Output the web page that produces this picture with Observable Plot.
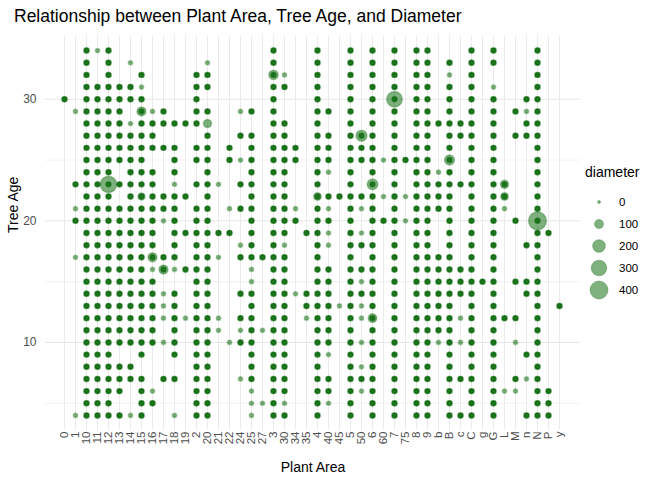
<!DOCTYPE html>
<html>
<head>
<meta charset="utf-8">
<script src="https://cdn.jsdelivr.net/npm/d3@7"></script>
<script src="https://cdn.jsdelivr.net/npm/@observablehq/plot@0.6"></script>
<style>
  body { margin: 0; font-family: "Liberation Sans", Arial, sans-serif; background: #fff; }
  #title { position: absolute; left: 14px; top: 6px; font-size: 17.5px; color: #000; }
  #chart { position: absolute; left: 0; top: 28px; }
  #legend { position: absolute; left: 585px; top: 165px; }
</style>
</head>
<body>
<div id="title">Relationship between Plant Area, Tree Age, and Diameter</div>
<div id="chart"></div>
<div id="legend"></div>
<script>
// plant areas, in axis order
const areas = ["0","1","10","11","12","13","14","15","16","17","18","19","2","20","21","22","24","25","27","3","30","34","35","4","40","45","5","50","6","60","7","75","8","9","b","B","c","C","g","G","L","M","n","N","P","y"]

// tree ages seen per area ("a-b" = every age in range, "l" = faint single point)
const ages = {
  "0": "30",
  "1": "29l 23 21l 20 17l 4l",
  "10": "4-34",
  "11": "34l 4-31",
  "12": "4-34",
  "13": "25-31 23 21 10-20 8 7 6 4",
  "14": "33l 30 31 28l 27 26 25 24 23 22 21 20 19 18 17 16 15 14 13 12 11 10 8 7 4l",
  "15": "32 31l 30 29 28 27 26 25 24 23 22 21 20 19 18 17 16 15 14 13 12 11 10 9 7 6 5 4",
  "16": "29l 28 27 26 24 23 22 21 20 19 18 17 16l 15 14 13 12 11 10 6l 5",
  "17": "29 28 26 22 21 20l 17 16 14l 13l 12l 10l 7",
  "18": "28 26 25 24 23l 22 21 20 19 18 17 16l 14 13 12 11 10 9 7 4l",
  "19": "28 22 19 16 12l",
  "2": "32 31 30 29 28 26 25 23 21 20 19 18 17 16 15 14 13 12 11 10 9 8 7 6 5 4",
  "20": "33l 32 31 29 28l 27 26 25 24 23 22 21 20 19 18 17 16 15 14 13 12 11 10 9 8 7 6 5 4",
  "21": "23l 19 17l 12l 11l",
  "22": "26 25 21l 19 10l",
  "24": "29l 27 25l 23 21 18l 17 14 12 11l 10 7l",
  "25": "29 27 26 25 24 23 22 21 20 19 18 17 16l 15l 14 13 12 11 10 9 8 7 6l 5l 4l",
  "27": "17 11l 5l",
  "3": "4-34",
  "30": "32l 31 28 27 26 25 24 23 22 21 20 19 18l 17 16 15 14 13 12 11 10 9 8 7 6 5l 4",
  "34": "26 25 21l 20 14l",
  "35": "19 14 13 12l",
  "4": "4-34",
  "40": "29 27 26 25 24l 22 21l 20 19l 18l 16 15 14 13 12 11 10 9l 7 6 5l",
  "45": "22 13l",
  "5": "4-34",
  "50": "27 26 25 22 21l 19l 18 16 15l 14 13l 12l 10l 8l 7 6l",
  "6": "4-34",
  "60": "25l 22l 20",
  "7": "4-34",
  "75": "25 22l 20l",
  "8": "4-34",
  "9": "4-34",
  "b": "28 24l 23 22 21 17 16 15 14 13 12 11 10l",
  "B": "33 32l 31 30 29 28 27 26 25 24 23 22 21 20 19 18 17 16 15 14 13 12 11 10 9 8 7 6 5 4",
  "c": "28 27 23 16 15 14 12l 10l 7 4",
  "C": "4-34",
  "g": "15",
  "G": "34 33 31l 30 29 28 27 26 25 24 23 22 21 20 19 18 17 16 15 14 13 12 11 10 9 8 7 6 5 4",
  "L": "23 22 21l 12 6l",
  "M": "29 27 20 15 12 10l 7 6l",
  "n": "30 29l 28 27 18 15 14 9 7l 4",
  "N": "4-34",
  "P": "19 6 5 4",
  "y": "13"
}

// the few trees with a large diameter: area, age, diameter
const bigArea = ["N","12","7","50","6","B","3","15","16","17","6","20","L","L","4","15"]
const bigAge  = [20, 23, 30, 27, 23, 25, 32, 29, 17, 16, 12, 28, 23, 22, 22, 22]
const bigDiam = [400, 330, 300, 150, 140, 120, 110, 100, 100, 100, 90, 80, 80, 70, 70, 60]

const usualDiam = 30, faintDiam = 22
const sizeTicks = [0, 100, 200, 300, 400]

const rows = []
for (const a of areas) {
  for (const tok of ages[a].split(" ")) {
    const faint = tok.endsWith("l")
    const t = faint ? tok.slice(0, -1) : tok
    let list
    if (t.includes("-")) { const [lo, hi] = t.split("-").map(Number); list = d3.range(lo, hi + 1) }
    else list = [+t]
    for (const age of list) {
      const bi = bigArea.findIndex((b, i) => b === a && bigAge[i] === age)
      const diam = bi >= 0 ? bigDiam[bi] : (faint ? faintDiam : usualDiam)
      // overlapping trees on one spot read darker: stack them
      const n = faint ? 1 : 3
      for (let k = 0; k < n; k++) rows.push({area: a, age, diameter: bi >= 0 && k > 0 ? usualDiam : diam})
    }
  }
}

const rScale = {type: "sqrt", domain: [0, 400], range: [0, 9]}

const chart = Plot.plot({
  width: 585,
  height: 452,
  marginLeft: 45,
  marginRight: 5,
  marginTop: 16,
  marginBottom: 59,
  style: {fontFamily: "Liberation Sans, Arial, sans-serif", fontSize: "11px"},
  x: {type: "point", domain: areas, range: [52, 571], label: null},
  y: {domain: [3.5, 34.5], label: null},
  r: rScale,
  marks: [
    Plot.ruleY([5, 15, 25], {stroke: "#f2f2f2"}),
    Plot.ruleY([10, 20, 30], {stroke: "#e6e6e6"}),
    Plot.ruleX(areas, {x: d => d, y1: 2.8, y2: 35.2, stroke: "#ebebeb"}),
    Plot.dot(rows, {x: "area", y: "age", r: "diameter", fill: "#006400", fillOpacity: 0.5, stroke: "#006400", strokeOpacity: 0.3}),
    Plot.axisY({ticks: [10, 20, 30], tickSize: 0, fill: "#4d4d4d", fontSize: 12, label: null}),
    Plot.axisX({tickSize: 0, tickRotate: -90, fill: "#4d4d4d", fontSize: 11.5, label: null, tickPadding: 10}),
    Plot.text(["Plant Area"], {frameAnchor: "bottom", dy: 50, fontSize: 14, fill: "#000"}),
    Plot.text(["Tree Age"], {frameAnchor: "left", dx: -32, rotate: -90, fontSize: 14, fill: "#000"})
  ]
})
d3.select("#chart").append(() => chart)

// size legend
const r = d3.scaleSqrt().domain(rScale.domain).range(rScale.range)
const lg = d3.select("#legend").append("svg").attr("width", 85).attr("height", 140)
  .style("font-family", "Liberation Sans, Arial, sans-serif")
lg.append("text").attr("x", 0).attr("y", 12).attr("font-size", 14).text("diameter")
sizeTicks.forEach((v, i) => {
  const cy = 37 + i * 22
  lg.append("circle").attr("cx", 14).attr("cy", cy).attr("r", Math.max(r(v), 1.5))
    .attr("fill", "#006400").attr("fill-opacity", 0.5).attr("stroke", "#006400").attr("stroke-opacity", 0.3)
  lg.append("text").attr("x", 34).attr("y", cy + 4).attr("font-size", 11.5).attr("fill", "#000").text(v)
})
</script>
</body>
</html>
